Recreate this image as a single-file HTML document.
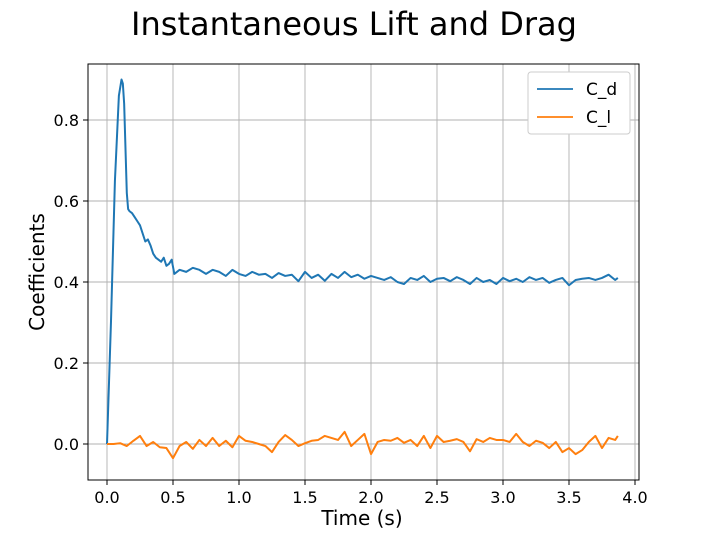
<!DOCTYPE html>
<html><head><meta charset="utf-8"><style>
body{margin:0;background:#fff;}
svg{display:block;font-family:"DejaVu Sans","Liberation Sans",sans-serif;}
</style></head><body>
<svg id="chart" width="704" height="536">
<text x="354" y="35" text-anchor="middle" font-size="32">Instantaneous Lift and Drag</text>
<g id="grid"></g><g id="series"></g><g id="axes"></g>
<text x="362" y="525" text-anchor="middle" font-size="20">Time (s)</text>
<text transform="translate(44,272) rotate(-90)" text-anchor="middle" font-size="20">Coefficients</text>
<g>
<rect x="528" y="72" width="102" height="62" rx="3" fill="#fff" stroke="#ccc"/>
<line x1="537" y1="89" x2="573" y2="89" stroke="#1f77b4" stroke-width="1.8"/>
<text x="586" y="95" font-size="17">C_d</text>
<line x1="537" y1="117" x2="573" y2="117" stroke="#ff7f0e" stroke-width="1.8"/>
<text x="586" y="123" font-size="17">C_l</text>
</g>
</svg>
<script>
const xTicks=[0,0.5,1,1.5,2,2.5,3,3.5,4];
const yTicks=[0,0.2,0.4,0.6,0.8];
const cdTime=[0,0.03,0.06,0.09,0.11,0.12,0.13,0.15,0.16,0.17,0.19,0.21,0.23,0.25,0.27,0.29,0.31,0.33,0.35,0.37,0.39,0.41,0.43,0.45,0.47,0.49,0.51,0.55,0.6,0.65,0.7,0.75,0.8,0.85,0.9,0.95,1.0,1.05,1.1,1.15,1.2,1.25,1.3,1.35,1.4,1.45,1.5,1.55,1.6,1.65,1.7,1.75,1.8,1.85,1.9,1.95,2.0,2.05,2.1,2.15,2.2,2.25,2.3,2.35,2.4,2.45,2.5,2.55,2.6,2.65,2.7,2.75,2.8,2.85,2.9,2.95,3.0,3.05,3.1,3.15,3.2,3.25,3.3,3.35,3.4,3.45,3.5,3.55,3.6,3.65,3.7,3.75,3.8,3.85,3.87];
const cdValues=[0,0.3,0.65,0.86,0.9,0.89,0.84,0.62,0.58,0.575,0.57,0.56,0.55,0.54,0.52,0.5,0.505,0.49,0.47,0.46,0.455,0.45,0.46,0.44,0.445,0.455,0.42,0.43,0.425,0.435,0.43,0.42,0.43,0.425,0.415,0.43,0.42,0.415,0.425,0.418,0.42,0.41,0.422,0.415,0.418,0.402,0.425,0.41,0.418,0.403,0.42,0.41,0.425,0.412,0.418,0.408,0.415,0.41,0.405,0.412,0.4,0.395,0.41,0.405,0.415,0.4,0.408,0.41,0.402,0.412,0.405,0.395,0.41,0.4,0.405,0.395,0.41,0.402,0.408,0.4,0.412,0.405,0.41,0.398,0.405,0.41,0.392,0.405,0.408,0.41,0.405,0.41,0.418,0.405,0.41];
const clTime=[0,0.05,0.1,0.15,0.2,0.25,0.3,0.35,0.4,0.45,0.5,0.55,0.6,0.65,0.7,0.75,0.8,0.85,0.9,0.95,1.0,1.05,1.1,1.15,1.2,1.25,1.3,1.35,1.4,1.45,1.5,1.55,1.6,1.65,1.7,1.75,1.8,1.85,1.9,1.95,2.0,2.05,2.1,2.15,2.2,2.25,2.3,2.35,2.4,2.45,2.5,2.55,2.6,2.65,2.7,2.75,2.8,2.85,2.9,2.95,3.0,3.05,3.1,3.15,3.2,3.25,3.3,3.35,3.4,3.45,3.5,3.55,3.6,3.65,3.7,3.75,3.8,3.85,3.87];
const clValues=[0,0,0.002,-0.005,0.008,0.02,-0.005,0.005,-0.008,-0.01,-0.035,-0.005,0.005,-0.012,0.01,-0.005,0.015,-0.005,0.008,-0.008,0.02,0.008,0.005,0,-0.005,-0.02,0.005,0.022,0.01,-0.005,0.002,0.008,0.01,0.02,0.015,0.01,0.03,-0.005,0.01,0.025,-0.025,0.005,0.01,0.008,0.015,0.003,0.01,-0.005,0.02,-0.01,0.02,0.005,0.008,0.012,0.005,-0.018,0.012,0.005,0.015,0.01,0.01,0.005,0.025,0.005,-0.005,0.008,0.003,-0.01,0.005,-0.02,-0.01,-0.025,-0.015,0.005,0.02,-0.01,0.015,0.01,0.02];
const X0=88,X1=639,Y0=64,Y1=480;
const xs=v=>107+v*132;
const ys=v=>444-v*405;
const NS="http://www.w3.org/2000/svg";
function mk(t,a,p){const e=document.createElementNS(NS,t);for(const k in a)e.setAttribute(k,a[k]);p.appendChild(e);return e;}
const grid=document.getElementById('grid'),axes=document.getElementById('axes'),ser=document.getElementById('series');
xTicks.forEach(t=>{
 const g=mk('line',{x1:xs(t),x2:xs(t),y1:Y0,y2:Y1,stroke:'#b0b0b0','stroke-width':0.9},grid);
 
 
 mk('line',{x1:xs(t),x2:xs(t),y1:Y1,y2:Y1+5,stroke:'#000'},axes);
 const l=mk('text',{x:xs(t),y:Y1+23,'text-anchor':'middle','font-size':16},axes);
 l.textContent=t.toFixed(1);
 
 
});
yTicks.forEach(t=>{
 const g=mk('line',{x1:X0,x2:X1,y1:ys(t),y2:ys(t),stroke:'#b0b0b0','stroke-width':0.9},grid);
 
 
 mk('line',{x1:X0-5,x2:X0,y1:ys(t),y2:ys(t),stroke:'#000'},axes);
 const l=mk('text',{x:X0-9,y:ys(t)+6,'text-anchor':'end','font-size':16},axes);
 l.textContent=t.toFixed(1);
 
 
});
const fr=mk('rect',{x:X0,y:Y0,width:X1-X0,height:Y1-Y0,fill:'none',stroke:'#000','stroke-width':1},axes);


function line(tt,vv,c,n){
 const p=mk('polyline',{points:tt.map((t,i)=>xs(t)+','+ys(vv[i])).join(' '),fill:'none',stroke:c,'stroke-width':2,'stroke-linejoin':'round'},ser);
 
 
}
line(cdTime,cdValues,'#1f77b4','cd-line');
line(clTime,clValues,'#ff7f0e','cl-line');
</script>
</body></html>
